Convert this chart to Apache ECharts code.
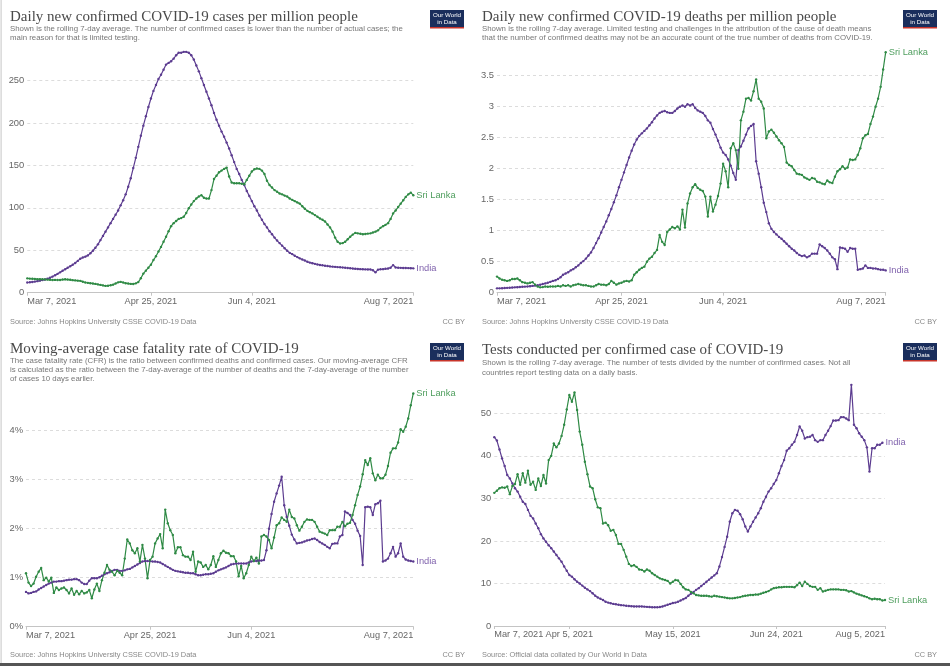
<!DOCTYPE html>
<html><head><meta charset="utf-8">
<script src="https://cdn.jsdelivr.net/npm/echarts@6/dist/echarts.min.js"></script>
<style>html,body{margin:0;padding:0;background:#fff}#c{width:950px;height:666px}</style>
</head><body><div id="c"></div>
<script>
// ---------- data ----------
const casesIndia = [12,12.3,12.7,13.1,13.6,14.2,14.9,15.5,16.4,17.6,19,20.5,22.2,24,25.8,27.6,29.5,31.2,33,35,37.5,40,41.5,42.5,44,46.5,49.5,53,57,62,67,72,77,82,87,92,97,103,109,116,125,135,147,159,172,185,197,208,219,229,238,245,252,257,263,269,271,273,276,280,283,283,284,284,283,280,275,268,261,253,245,237,229,221,212,204,197,190,184,177,170,162,154,146,140,133,127,120,114,108,102,97,91,86,81,77,72.5,69,65,61.5,58.5,55.5,52.5,49.5,47,45.5,43.5,42,40.5,39.2,38,36.5,35.5,34.8,34,33.3,32.7,32.3,31.8,31.4,31,30.7,30.5,30.2,30,29.7,29.4,29.1,28.8,28.5,28.2,28,27.8,27.6,27.5,27.4,27.4,26.5,24,27.2,27.6,27.8,28.2,28.5,29.5,32.5,29.8,29.5,29.3,29.2,29.1,29,28.9,28.7];
const casesSriLanka = [16.9,16.6,16.4,16.2,16,15.9,15.8,15.7,15.4,15.2,15,15.1,15,15,15.5,15.8,15.5,15.2,14.8,14.5,14.2,14,13,12,11.6,11.2,10.8,10.4,9.8,9.2,8.6,8,8.2,8.8,9.5,10.8,12.2,12.8,12,11.2,10.8,10.4,10.3,11,12.5,17,22.5,26,29.5,33,38.5,43,48.5,54,60,66,72.5,78.5,82,84.5,87,88,89.5,94,99.5,104,108,111,113.5,115,112,111,111,121,134,138,142,144,146,147.5,137,130,129,129,129,128.5,128,133,138,143,145.5,146.5,146,144,140,132,127,124,121,119,117,116,114.5,113.5,111,109.5,108,106.5,105,102,99,96.5,95,93.5,91.5,89.5,87.5,86,84,80.5,77,72,65,60,58,58.5,60,63,66,68.5,70.5,70,69.5,69,69.3,69.7,70,71,72,73.5,76.5,78.5,80,82,87,93.5,97,101,105,109,113,116,118,115];
const deathsIndia = [0.07,0.07,0.072,0.075,0.078,0.08,0.083,0.086,0.089,0.092,0.095,0.098,0.1,0.105,0.11,0.115,0.12,0.128,0.14,0.15,0.16,0.175,0.19,0.2,0.22,0.25,0.29,0.31,0.33,0.36,0.38,0.41,0.44,0.48,0.51,0.55,0.6,0.65,0.72,0.8,0.88,0.97,1.06,1.15,1.25,1.35,1.46,1.57,1.7,1.82,1.94,2.06,2.18,2.29,2.39,2.47,2.53,2.57,2.61,2.65,2.7,2.75,2.81,2.86,2.9,2.92,2.93,2.91,2.9,2.9,2.93,2.97,3.0,3.02,3.0,3.04,3.02,3.04,2.98,2.94,2.92,2.9,2.85,2.78,2.74,2.64,2.55,2.45,2.34,2.26,2.22,2.15,2.05,1.93,1.82,2.3,2.36,2.45,2.55,2.65,2.69,2.72,2.12,1.92,1.7,1.45,1.3,1.12,1.03,0.98,0.94,0.9,0.87,0.83,0.79,0.75,0.71,0.68,0.64,0.61,0.59,0.6,0.57,0.59,0.63,0.63,0.63,0.78,0.75,0.72,0.68,0.63,0.57,0.54,0.38,0.73,0.72,0.71,0.66,0.72,0.71,0.71,0.37,0.38,0.39,0.44,0.4,0.4,0.39,0.39,0.38,0.37,0.37,0.36];
const deathsSriLanka = [0.26,0.23,0.21,0.2,0.19,0.2,0.22,0.22,0.23,0.2,0.17,0.16,0.15,0.16,0.17,0.13,0.1,0.086,0.09,0.1,0.095,0.1,0.1,0.1,0.11,0.1,0.12,0.11,0.12,0.1,0.12,0.13,0.14,0.13,0.12,0.12,0.11,0.1,0.1,0.12,0.14,0.13,0.13,0.12,0.14,0.19,0.16,0.13,0.15,0.16,0.18,0.19,0.18,0.2,0.29,0.33,0.37,0.4,0.42,0.5,0.55,0.58,0.64,0.69,0.93,0.82,0.77,0.98,1.02,1.06,1.04,1.07,1.02,1.34,1.05,1.44,1.6,1.7,1.75,1.69,1.66,1.64,1.55,1.23,1.55,1.31,1.42,1.56,1.76,2.08,1.96,1.7,2.33,2.41,2.3,2.0,2.78,2.92,3.13,3.14,3.1,3.25,3.44,3.13,3.08,2.97,2.49,2.6,2.63,2.58,2.52,2.46,2.41,2.35,2.1,2.06,2.04,1.98,1.92,1.91,1.9,1.86,1.84,1.82,1.85,1.84,1.79,1.78,1.76,1.75,1.81,1.78,1.77,1.87,1.96,1.99,2.04,2.0,2.02,2.15,2.14,2.15,2.22,2.33,2.49,2.54,2.56,2.72,2.84,3.0,3.13,3.32,3.6,3.88];
const cfrIndia = [0.71,0.68,0.69,0.71,0.72,0.76,0.79,0.82,0.85,0.88,0.9,0.92,0.92,0.93,0.93,0.94,0.95,0.96,0.96,0.97,0.97,0.95,0.9,0.87,0.87,0.94,0.99,0.99,0.99,1.01,1.04,1.07,1.09,1.11,1.14,1.16,1.16,1.14,1.14,1.15,1.17,1.18,1.21,1.24,1.27,1.3,1.33,1.34,1.34,1.34,1.33,1.33,1.32,1.31,1.28,1.25,1.22,1.19,1.16,1.14,1.13,1.12,1.11,1.1,1.1,1.09,1.09,1.07,1.05,1.05,1.06,1.07,1.07,1.08,1.09,1.12,1.15,1.17,1.19,1.21,1.24,1.27,1.28,1.29,1.29,1.29,1.29,1.29,1.31,1.33,1.34,1.34,1.35,1.35,1.36,1.56,2.0,2.3,2.55,2.72,2.88,3.06,2.48,2.24,2.06,1.88,1.78,1.7,1.71,1.72,1.74,1.76,1.77,1.79,1.8,1.77,1.73,1.7,1.67,1.63,1.6,1.69,1.7,1.7,1.84,1.87,2.35,2.32,2.28,2.18,2.1,1.96,1.85,1.26,2.44,2.45,2.44,2.28,2.5,2.52,2.57,1.33,1.35,1.39,1.5,1.63,1.43,1.5,1.7,1.43,1.37,1.35,1.34,1.33];
const cfrSriLanka = [1.09,0.9,0.83,0.88,1.02,1.12,1.2,0.95,1.0,0.92,1.0,0.69,0.8,0.75,0.78,0.8,0.75,0.68,0.78,0.65,0.73,0.66,0.73,0.68,0.7,0.75,0.58,0.76,0.88,0.73,0.95,1.1,1.26,1.16,1.12,1.05,1.14,1.1,1.05,1.39,1.78,1.7,1.56,1.5,1.6,1.33,1.67,1.39,0.99,1.36,1.43,1.7,1.8,1.89,1.6,2.39,2.11,1.97,1.87,1.5,1.62,1.62,1.46,1.43,1.43,1.36,1.53,1.12,1.33,1.31,1.22,1.26,1.17,1.26,1.44,1.22,1.36,1.5,1.55,1.51,1.5,1.44,1.44,1.33,1.03,1.24,0.99,1.09,1.26,1.43,1.34,1.41,1.29,1.84,1.87,1.84,1.77,1.6,1.82,2.07,2.11,2.23,2.18,2.14,2.39,2.24,2.21,2.07,1.96,2.04,2.14,2.19,2.18,2.18,2.14,2.04,1.94,1.92,1.9,1.87,1.97,1.97,1.97,2.04,2.04,2.14,2.05,2.1,2.12,2.28,2.48,2.69,2.86,3.11,3.4,3.3,3.44,3.13,2.99,3.1,3.03,3.03,3.1,3.28,3.55,3.64,3.64,3.76,4.03,3.98,4.08,4.25,4.52,4.76];
const testsIndia = [44.4,43.6,41.5,39.4,37.6,35.5,34.7,33.5,32.4,31.6,30.4,29.2,28.7,27.3,25.9,25.3,24.1,23,21.6,20.6,19.8,19,18.3,17.5,16.7,15.9,15.1,14,13,12,11.6,11,10.4,10,9.5,9,8.6,8.2,7.7,7.1,6.7,6.4,6.1,5.7,5.5,5.35,5.2,5.1,5.0,4.9,4.85,4.75,4.7,4.65,4.6,4.6,4.6,4.6,4.55,4.5,4.45,4.4,4.4,4.4,4.45,4.6,4.8,5.0,5.2,5.4,5.5,5.7,6.0,6.3,6.6,7.1,7.6,8.0,8.5,8.9,9.4,9.9,10.4,10.9,11.4,11.9,12.4,14.0,16.2,18.6,21.0,24.5,26.5,27.3,27.1,26.3,25.1,23.4,22.2,23.4,24.5,25.5,26.5,27.7,29.2,30.4,31.6,32.4,33.4,34.3,35.9,37.6,39,41.2,41.8,42.6,43.3,44.9,46.9,45.9,44.1,44.4,44.5,44.9,43.7,43.3,43.7,43.7,44.9,45.9,47,48.3,48.3,48.4,49.1,49.1,48.8,48.4,56.7,47.3,46.5,45.3,44.5,43.7,42,36.3,41.8,41.8,42.6,42.6,43.1];
const testsSriLanka = [31.3,31.8,32.4,32.6,32.5,32.8,31,32.9,33.4,35.7,33.2,35.9,33.7,36.5,33.2,33.9,32,34.7,32.9,35.5,33.5,39,40,42.9,42,42.9,44.7,47.3,50.9,54.3,52.7,54.9,50.8,45.7,42.6,38.6,35.7,32.8,32.4,29.8,27.9,27.7,24.1,24.3,23.7,22.4,22.6,21.4,19.3,19.3,17.9,16.3,14.6,14.1,14.3,13.9,13.3,13.2,12.8,13.3,13,12.4,12,11.6,11.2,11,10.8,10.6,10,10.4,10.8,10.7,9.9,9.1,8.6,8.5,8,7.7,7.3,7.2,7.1,7.1,7.1,7.0,6.9,7.1,7.0,6.9,6.8,6.7,6.6,6.5,6.5,6.6,6.7,6.8,7.0,7.1,7.2,7.3,7.3,7.4,7.4,7.6,7.8,8.0,8.2,8.6,8.9,9.0,9.1,9.1,9.2,9.2,9.2,9.2,9.1,9.6,10.2,9.4,10.4,9.9,9.4,9.2,9.2,8.5,8.9,8.1,8.3,8.5,8.6,8.6,8.6,8.6,8.5,8.5,8.4,8.1,8.2,7.9,7.6,7.4,7.2,7.0,6.8,6.5,6.3,6.4,6.3,6.3,6.0,6.1];
const ticksA = ['Mar 7, 2021','Apr 25, 2021','Jun 4, 2021','Aug 7, 2021'];
const ticksB = ['Mar 7, 2021','Apr 5, 2021','May 15, 2021','Jun 24, 2021','Aug 5, 2021'];

// ---------- categories ----------
const MONTHS = ['Jan','Feb','Mar','Apr','May','Jun','Jul','Aug','Sep','Oct','Nov','Dec'];
function dateRange(y, m, d, n) {
  const out = [];
  for (let i = 0; i < n; i++) {
    const t = new Date(Date.UTC(y, m, d + i));
    out.push(MONTHS[t.getUTCMonth()] + ' ' + t.getUTCDate() + ', ' + t.getUTCFullYear());
  }
  return out;
}
const datesA = dateRange(2021, 2, 7, 154); // Mar 7 .. Aug 7
const datesB = dateRange(2021, 2, 7, 152); // Mar 7 .. Aug 5

// ---------- styling ----------
const SANS = '"Liberation Sans", Arial, sans-serif';
const SERIF = '"Liberation Serif", "DejaVu Serif", serif';
const C_IND = '#5c3c90', C_IND_L = '#8063ad';
const C_SL = '#2f8a45', C_SL_L = '#4f9e5e';

function xAx(gi, data, ticks) {
  const f = (i, v) => ticks.indexOf(v) >= 0;
  return {
    type: 'category', gridIndex: gi, data: data, boundaryGap: false,
    axisLine: { lineStyle: { color: '#c4c4c4', width: 1 } },
    axisTick: { show: true, interval: f, length: 3, lineStyle: { color: '#c4c4c4' } },
    axisLabel: { interval: f, color: '#666', fontSize: 9.2, fontFamily: SANS, margin: 4, hideOverlap: false,
      alignMinLabel: 'left', alignMaxLabel: 'right' },
    splitLine: { show: false }
  };
}
function yAx(gi, max, interval, fmt) {
  return {
    type: 'value', gridIndex: gi, min: 0, max: max, interval: interval,
    axisLine: { show: false }, axisTick: { show: false },
    axisLabel: { color: '#666', fontSize: 9.4, fontFamily: SANS, margin: 3, showMaxLabel: false, formatter: fmt },
    splitLine: { show: true, showMinLine: false, showMaxLine: false, lineStyle: { color: '#dcdcdc', type: [3, 3], width: 1 } }
  };
}
function ser(name, gi, data, color, labelColor) {
  return {
    type: 'line', name: name, xAxisIndex: gi, yAxisIndex: gi, data: data,
    showSymbol: true, showAllSymbol: true, symbol: 'circle', symbolSize: 2.4,
    lineStyle: { width: 1.2, color: color }, itemStyle: { color: color },
    endLabel: { show: true, formatter: '{a}', color: labelColor, fontSize: 9.3, fontFamily: SANS, distance: 3 },
    emphasis: { disabled: true }, silent: true, animation: false
  };
}
function txt(x, y, text, size, color, font, align) {
  return { type: 'text', x: x, y: y, silent: true,
    style: { text: text, fill: color, fontSize: size, fontFamily: font, align: align || 'left', verticalAlign: 'middle' } };
}
function logo(x, y) {
  return { type: 'group', x: x, y: y, silent: true, children: [
    { type: 'rect', shape: { x: 0, y: 0, width: 34, height: 17 }, style: { fill: '#1a2e5c' } },
    { type: 'rect', shape: { x: 0, y: 17, width: 34, height: 1.6 }, style: { fill: '#c8352b' } },
    { type: 'text', x: 17, y: 8.5, style: { text: 'Our World\nin Data', fill: '#fff', fontSize: 6.2, lineHeight: 6.6,
      fontFamily: SANS, align: 'center', verticalAlign: 'middle' } }
  ] };
}

const SUB = 7.85;
const titles = [
  txt(10, 16.7, 'Daily new confirmed COVID-19 cases per million people', 15, '#4a4a4a', SERIF),
  txt(10, 29.3, 'Shown is the rolling 7-day average. The number of confirmed cases is lower than the number of actual cases; the', SUB, '#777', SANS),
  txt(10, 38.2, 'main reason for that is limited testing.', SUB, '#777', SANS),
  txt(482, 16.7, 'Daily new confirmed COVID-19 deaths per million people', 15, '#4a4a4a', SERIF),
  txt(482, 29.3, 'Shown is the rolling 7-day average. Limited testing and challenges in the attribution of the cause of death means', SUB, '#777', SANS),
  txt(482, 38.2, 'that the number of confirmed deaths may not be an accurate count of the true number of deaths from COVID-19.', SUB, '#777', SANS),
  txt(10, 349.5, 'Moving-average case fatality rate of COVID-19', 15, '#4a4a4a', SERIF),
  txt(10, 361.2, 'The case fatality rate (CFR) is the ratio between confirmed deaths and confirmed cases. Our moving-average CFR', SUB, '#777', SANS),
  txt(10, 370, 'is calculated as the ratio between the 7-day-average of the number of deaths and the 7-day-average of the number', SUB, '#777', SANS),
  txt(10, 378.6, 'of cases 10 days earlier.', SUB, '#777', SANS),
  txt(482, 350, 'Tests conducted per confirmed case of COVID-19', 15, '#4a4a4a', SERIF),
  txt(482, 363.2, 'Shown is the rolling 7-day average. The number of tests divided by the number of confirmed cases. Not all', SUB, '#777', SANS),
  txt(482, 372.5, 'countries report testing data on a daily basis.', SUB, '#777', SANS),
  txt(10, 321.7, 'Source: Johns Hopkins University CSSE COVID-19 Data', 7.4, '#888', SANS),
  txt(465, 321.7, 'CC BY', 7.4, '#888', SANS, 'right'),
  txt(482, 321.7, 'Source: Johns Hopkins University CSSE COVID-19 Data', 7.4, '#888', SANS),
  txt(937, 321.7, 'CC BY', 7.4, '#888', SANS, 'right'),
  txt(10, 655, 'Source: Johns Hopkins University CSSE COVID-19 Data', 7.4, '#888', SANS),
  txt(465, 655, 'CC BY', 7.4, '#888', SANS, 'right'),
  txt(482, 655, 'Source: Official data collated by Our World in Data', 7.4, '#888', SANS),
  txt(937, 655, 'CC BY', 7.4, '#888', SANS, 'right'),
  logo(430, 10), logo(903, 10), logo(430, 343), logo(903, 343),
  { type: 'rect', silent: true, shape: { x: 0.5, y: 0, width: 1.2, height: 666 }, style: { fill: '#cfcfcf' } },
  { type: 'rect', silent: true, shape: { x: 0, y: 663, width: 950, height: 3 }, style: { fill: '#555' } }
];

const chart = echarts.init(document.getElementById('c'), null, { renderer: 'canvas' });
chart.setOption({
  animation: false,
  backgroundColor: '#fff',
  grid: [
    { left: 27.3, top: 38.3, width: 386, height: 254.4 },
    { left: 497, top: 44.7, width: 388.7, height: 248 },
    { left: 26, top: 381.7, width: 387.3, height: 245 },
    { left: 494.3, top: 370.8, width: 390.7, height: 255.2 }
  ],
  xAxis: [xAx(0, datesA, ticksA), xAx(1, datesA, ticksA), xAx(2, datesA, ticksA), xAx(3, datesB, ticksB)],
  yAxis: [yAx(0, 300, 50), yAx(1, 4, 0.5), yAx(2, 5, 1, '{value}%'), yAx(3, 60, 10)],
  series: [
    ser('India', 0, casesIndia, C_IND, C_IND_L),
    ser('Sri Lanka', 0, casesSriLanka, C_SL, C_SL_L),
    ser('India', 1, deathsIndia, C_IND, C_IND_L),
    ser('Sri Lanka', 1, deathsSriLanka, C_SL, C_SL_L),
    ser('India', 2, cfrIndia, C_IND, C_IND_L),
    ser('Sri Lanka', 2, cfrSriLanka, C_SL, C_SL_L),
    ser('India', 3, testsIndia, C_IND, C_IND_L),
    ser('Sri Lanka', 3, testsSriLanka, C_SL, C_SL_L)
  ],
  graphic: titles
});
</script>
</body></html>
